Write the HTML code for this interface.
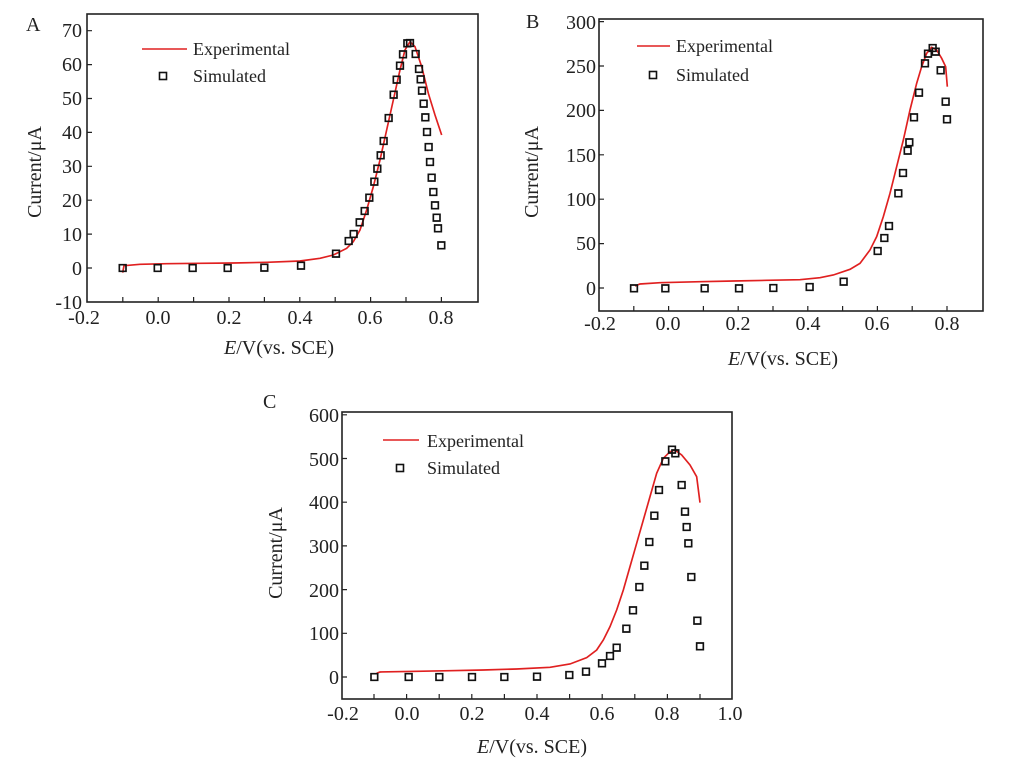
<!DOCTYPE html>
<html><head><meta charset="utf-8"><style>
body{margin:0;background:#fff}
svg{display:block}
text{font-family:"Liberation Serif",serif;fill:#222}
.t{font-size:20px}
.l{font-size:18px}
</style></head><body>
<svg width="1009" height="772" viewBox="0 0 1009 772" xmlns="http://www.w3.org/2000/svg">
<!-- Panel A -->
<rect x="87" y="14" width="391" height="288" fill="none" stroke="#222" stroke-width="1.6"/>
<g stroke="#222" stroke-width="1.2">
<path d="M87 30.7h5M87 64.6h5M87 98.5h5M87 132.4h5M87 166.3h5M87 200.2h5M87 234.1h5M87 268h5"/>
<path d="M122.8 302v-5M158.2 302v-5M193.6 302v-5M229 302v-5M264.4 302v-5M299.8 302v-5M335.2 302v-5M370.6 302v-5M406 302v-5M441.4 302v-5"/>
</g>
<g class="t" text-anchor="end">
<text x="82" y="37">70</text><text x="82" y="71">60</text><text x="82" y="105">50</text><text x="82" y="139">40</text><text x="82" y="173">30</text><text x="82" y="207">20</text><text x="82" y="241">10</text><text x="82" y="275">0</text><text x="82" y="309">-10</text>
</g>
<g class="t" text-anchor="middle">
<text x="84" y="324">-0.2</text><text x="158" y="324">0.0</text><text x="229" y="324">0.2</text><text x="300" y="324">0.4</text><text x="370" y="324">0.6</text><text x="441" y="324">0.8</text>
<text x="279" y="354"><tspan font-style="italic">E</tspan>/V(vs. SCE)</text>
</g>
<text class="t" x="0" y="0" text-anchor="middle" transform="translate(41,172) rotate(-90)">Current/μA</text>
<text class="t" x="26" y="31">A</text>
<line x1="142" y1="49" x2="187" y2="49" stroke="#e02020" stroke-width="1.6"/>
<text class="l" x="193" y="55">Experimental</text>
<rect x="159.5" y="72.5" width="7" height="7" fill="none" stroke="#111" stroke-width="1.6"/>
<text class="l" x="193" y="82">Simulated</text>
<g transform="scale(0.33333)">
<polyline fill="none" stroke="#e02020" stroke-width="5" points="368,818 372,797 420,793 500,791 600,790 700,789 800,787 900,783 960,775 1000,765 1040,745 1060,725 1080,690 1100,630 1120,560 1140,480 1160,390 1180,300 1200,210 1215,150 1230,125 1245,140 1265,200 1285,280 1305,345 1325,405"/>
<path fill="none" stroke="#111" stroke-width="5" d="M368 804m-10 -10h20v20h-20zM473 804m-10 -10h20v20h-20zM578 804m-10 -10h20v20h-20zM683 804m-10 -10h20v20h-20zM793 803m-10 -10h20v20h-20zM903 797m-10 -10h20v20h-20zM1008 761m-10 -10h20v20h-20zM1046 723m-10 -10h20v20h-20zM1061 702m-10 -10h20v20h-20zM1079 667m-10 -10h20v20h-20zM1094 633m-10 -10h20v20h-20zM1108 593m-10 -10h20v20h-20zM1123 545m-10 -10h20v20h-20zM1132 506m-10 -10h20v20h-20zM1142 466m-10 -10h20v20h-20zM1151 423m-10 -10h20v20h-20zM1166 354m-10 -10h20v20h-20zM1181 284m-10 -10h20v20h-20zM1190 239m-10 -10h20v20h-20zM1200 197m-10 -10h20v20h-20zM1209 163m-10 -10h20v20h-20zM1222 130m-10 -10h20v20h-20zM1230 129m-10 -10h20v20h-20zM1247 162m-10 -10h20v20h-20zM1257 207m-10 -10h20v20h-20zM1262 238m-10 -10h20v20h-20zM1266 272m-10 -10h20v20h-20zM1271 311m-10 -10h20v20h-20zM1276 352m-10 -10h20v20h-20zM1281 396m-10 -10h20v20h-20zM1286 441m-10 -10h20v20h-20zM1290 486m-10 -10h20v20h-20zM1295 533m-10 -10h20v20h-20zM1300 576m-10 -10h20v20h-20zM1305 616m-10 -10h20v20h-20zM1310 653m-10 -10h20v20h-20zM1314 685m-10 -10h20v20h-20zM1324 736m-10 -10h20v20h-20z"/>
</g>

<!-- Panel B -->
<rect x="599" y="19" width="384" height="292" fill="none" stroke="#222" stroke-width="1.6"/>
<g stroke="#222" stroke-width="1.2">
<path d="M599 21.6h5M599 66h5M599 110.4h5M599 154.8h5M599 199.2h5M599 243.6h5M599 288h5"/>
<path d="M633.8 311v-5M668.6 311v-5M703.4 311v-5M738.2 311v-5M773 311v-5M807.8 311v-5M842.6 311v-5M877.4 311v-5M912.2 311v-5M947 311v-5"/>
</g>
<g class="t" text-anchor="end">
<text x="596" y="29">300</text><text x="596" y="73">250</text><text x="596" y="117">200</text><text x="596" y="162">150</text><text x="596" y="206">100</text><text x="596" y="250">50</text><text x="596" y="295">0</text>
</g>
<g class="t" text-anchor="middle">
<text x="600" y="330">-0.2</text><text x="668" y="330">0.0</text><text x="738" y="330">0.2</text><text x="808" y="330">0.4</text><text x="877" y="330">0.6</text><text x="947" y="330">0.8</text>
<text x="783" y="365"><tspan font-style="italic">E</tspan>/V(vs. SCE)</text>
</g>
<text class="t" x="0" y="0" text-anchor="middle" transform="translate(538,172) rotate(-90)">Current/μA</text>
<text class="t" x="526" y="28">B</text>
<line x1="637" y1="46" x2="670" y2="46" stroke="#e02020" stroke-width="1.6"/>
<text class="l" x="676" y="52">Experimental</text>
<rect x="649.5" y="71.5" width="7" height="7" fill="none" stroke="#111" stroke-width="1.6"/>
<text class="l" x="676" y="81">Simulated</text>
<g transform="translate(500,0) scale(0.33333)">
<polyline fill="none" stroke="#e02020" stroke-width="5" points="405,858 420,852 480,848 600,845 700,843 800,841 900,839 960,833 1000,825 1050,808 1080,790 1110,750 1130,710 1150,650 1170,580 1190,500 1210,420 1230,330 1250,250 1265,200 1280,160 1295,142 1310,150 1325,175 1337,200 1342,260"/>
<path fill="none" stroke="#111" stroke-width="5" d="M402 865m-10 -10h20v20h-20zM496 865m-10 -10h20v20h-20zM614 865m-10 -10h20v20h-20zM717 865m-10 -10h20v20h-20zM820 864m-10 -10h20v20h-20zM929 861m-10 -10h20v20h-20zM1031 845m-10 -10h20v20h-20zM1133 753m-10 -10h20v20h-20zM1153 714m-10 -10h20v20h-20zM1167 678m-10 -10h20v20h-20zM1195 580m-10 -10h20v20h-20zM1209 519m-10 -10h20v20h-20zM1223 452m-10 -10h20v20h-20zM1228 427m-10 -10h20v20h-20zM1242 352m-10 -10h20v20h-20zM1257 278m-10 -10h20v20h-20zM1275 190m-10 -10h20v20h-20zM1284 161m-10 -10h20v20h-20zM1298 144m-10 -10h20v20h-20zM1307 155m-10 -10h20v20h-20zM1322 211m-10 -10h20v20h-20zM1337 305m-10 -10h20v20h-20zM1341 358m-10 -10h20v20h-20z"/>
</g>

<!-- Panel C -->
<rect x="342" y="412" width="390" height="287" fill="none" stroke="#222" stroke-width="1.6"/>
<g stroke="#222" stroke-width="1.2">
<path d="M342 414.8h5M342 458.5h5M342 502.2h5M342 545.9h5M342 589.6h5M342 633.3h5M342 677h5"/>
<path d="M374 699v-5M406.6 699v-5M439.2 699v-5M471.8 699v-5M504.4 699v-5M537 699v-5M569.6 699v-5M602.2 699v-5M634.8 699v-5M667.4 699v-5M700 699v-5"/>
</g>
<g class="t" text-anchor="end">
<text x="339" y="422">600</text><text x="339" y="466">500</text><text x="339" y="509">400</text><text x="339" y="553">300</text><text x="339" y="597">200</text><text x="339" y="640">100</text><text x="339" y="684">0</text>
</g>
<g class="t" text-anchor="middle">
<text x="343" y="720">-0.2</text><text x="407" y="720">0.0</text><text x="472" y="720">0.2</text><text x="537" y="720">0.4</text><text x="602" y="720">0.6</text><text x="667" y="720">0.8</text><text x="730" y="720">1.0</text>
<text x="532" y="753"><tspan font-style="italic">E</tspan>/V(vs. SCE)</text>
</g>
<rect x="742" y="700" width="20" height="30" fill="#fff"/>
<text class="t" x="0" y="0" text-anchor="middle" transform="translate(282,553) rotate(-90)">Current/μA</text>
<text class="t" x="263" y="408">C</text>
<line x1="383" y1="440" x2="419" y2="440" stroke="#e02020" stroke-width="1.6"/>
<text class="l" x="427" y="447">Experimental</text>
<rect x="396.5" y="464.5" width="7" height="7" fill="none" stroke="#111" stroke-width="1.6"/>
<text class="l" x="427" y="474">Simulated</text>
<g transform="translate(250,390) scale(0.33333)">
<polyline fill="none" stroke="#e02020" stroke-width="5" points="380,850 390,846 500,844 600,842 700,840 800,837 900,832 960,822 1010,803 1040,780 1060,750 1080,710 1100,660 1120,600 1140,530 1160,460 1180,390 1200,320 1220,250 1240,205 1260,185 1275,180 1295,195 1320,225 1340,260 1350,338"/>
<path fill="none" stroke="#111" stroke-width="5" d="M373 861m-10 -10h20v20h-20zM476 861m-10 -10h20v20h-20zM568 861m-10 -10h20v20h-20zM666 861m-10 -10h20v20h-20zM763 861m-10 -10h20v20h-20zM861 860m-10 -10h20v20h-20zM958 855m-10 -10h20v20h-20zM1008 845m-10 -10h20v20h-20zM1056 820m-10 -10h20v20h-20zM1080 798m-10 -10h20v20h-20zM1100 773m-10 -10h20v20h-20zM1129 716m-10 -10h20v20h-20zM1149 661m-10 -10h20v20h-20zM1168 591m-10 -10h20v20h-20zM1183 527m-10 -10h20v20h-20zM1198 456m-10 -10h20v20h-20zM1213 377m-10 -10h20v20h-20zM1227 300m-10 -10h20v20h-20zM1246 214m-10 -10h20v20h-20zM1266 179m-10 -10h20v20h-20zM1276 190m-10 -10h20v20h-20zM1295 285m-10 -10h20v20h-20zM1305 365m-10 -10h20v20h-20zM1310 411m-10 -10h20v20h-20zM1315 460m-10 -10h20v20h-20zM1324 561m-10 -10h20v20h-20zM1342 692m-10 -10h20v20h-20zM1350 769m-10 -10h20v20h-20z"/>
</g>
</svg>
</body></html>
